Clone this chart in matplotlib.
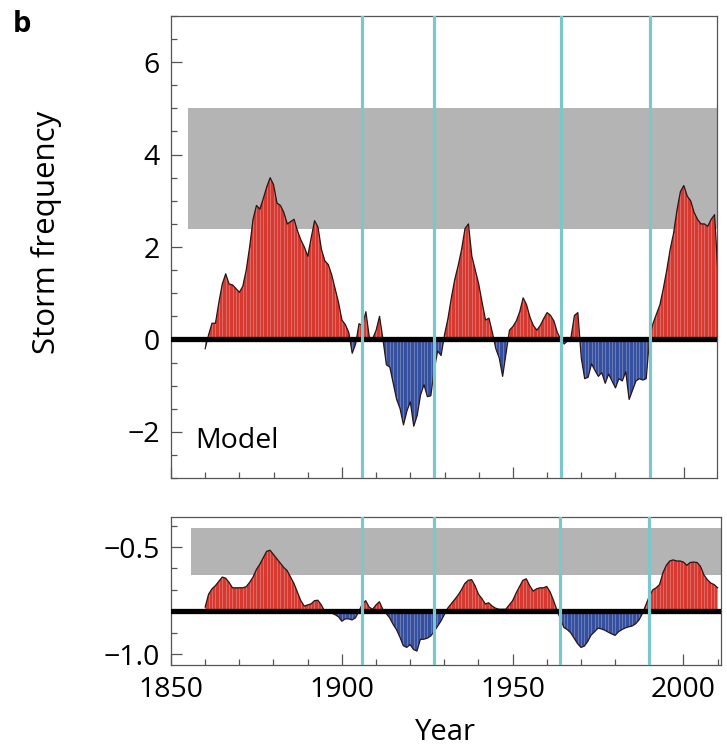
import numpy as np
import matplotlib
matplotlib.use("Agg")
import matplotlib.pyplot as plt
from matplotlib.ticker import MultipleLocator, FuncFormatter

plt.rcParams['font.family'] = ['Open Sans', 'DejaVu Sans']

# Данные
years = list(range(1860, 2011))

model = [
    -0.2, 0.1, 0.35, 0.35, 0.8, 1.2, 1.42, 1.2, 1.18, 1.1,          # 1860-1869
    1.02, 1.15, 1.5, 2.0, 2.6, 2.9, 2.82, 3.05, 3.3, 3.5,           # 1870-1879
    3.35, 2.95, 2.9, 2.75, 2.5, 2.55, 2.6, 2.35, 2.15, 2.0,         # 1880-1889
    1.8, 2.2, 2.57, 2.43, 1.95, 1.7, 1.62, 1.4, 1.1, 0.8,           # 1890-1899
    0.42, 0.32, 0.15, -0.3, -0.1, 0.34, 0.3, 0.6, 0.05, 0.02,       # 1900-1909
    0.2, 0.5, 0.0, -0.55, -0.6, -0.95, -1.3, -1.5, -1.85, -1.55,    # 1910-1919
    -1.35, -1.88, -1.65, -1.2, -0.98, -1.24, -1.22, -0.65, -0.25, -0.35,  # 1920-1929
    0.1, 0.45, 0.9, 1.3, 1.6, 1.95, 2.4, 2.5, 1.8, 1.5,             # 1930-1939
    1.2, 0.8, 0.42, 0.46, 0.15, -0.2, -0.4, -0.8, -0.3, 0.2,        # 1940-1949
    0.28, 0.4, 0.6, 0.9, 0.75, 0.48, 0.3, 0.2, 0.3, 0.45,           # 1950-1959
    0.58, 0.52, 0.4, 0.15, 0.0, -0.1, -0.03, 0.05, 0.52, 0.58,      # 1960-1969
    -0.4, -0.85, -0.82, -0.53, -0.67, -0.8, -0.72, -0.95, -0.75, -0.9,    # 1970-1979
    -1.05, -0.85, -0.9, -0.7, -1.3, -1.1, -0.9, -0.85, -0.88, -0.85,      # 1980-1989
    0.05, 0.35, 0.55, 0.75, 1.1, 1.5, 1.95, 2.3, 2.8, 3.2,          # 1990-1999
    3.33, 3.1, 3.0, 2.75, 2.6, 2.5, 2.5, 2.45, 2.6, 2.7,            # 2000-2009
    1.4,                                                            # 2010
]

obs = [
    -0.78, -0.72, -0.695, -0.68, -0.66, -0.64, -0.645, -0.665, -0.69, -0.69,
    -0.69, -0.69, -0.685, -0.665, -0.64, -0.605, -0.58, -0.55, -0.52, -0.515,
    -0.535, -0.555, -0.575, -0.595, -0.61, -0.64, -0.67, -0.71, -0.75, -0.775,
    -0.77, -0.765, -0.75, -0.748, -0.77, -0.8, -0.805, -0.808, -0.815, -0.825,
    -0.846, -0.835, -0.835, -0.84, -0.83, -0.8, -0.765, -0.75, -0.78, -0.79,
    -0.77, -0.755, -0.79, -0.81, -0.83, -0.86, -0.885, -0.92, -0.96, -0.968,
    -0.955, -0.978, -0.985, -0.93, -0.93, -0.925, -0.915, -0.895, -0.87, -0.846,
    -0.815, -0.785, -0.765, -0.745, -0.725, -0.7, -0.67, -0.655, -0.652, -0.68,
    -0.72, -0.74, -0.765, -0.76, -0.775, -0.785, -0.79, -0.79, -0.79, -0.77,
    -0.75, -0.715, -0.685, -0.655, -0.648, -0.68, -0.705, -0.695, -0.69, -0.69,
    -0.684, -0.71, -0.75, -0.795, -0.835, -0.875, -0.885, -0.9, -0.925, -0.95,
    -0.968, -0.962, -0.94, -0.91, -0.895, -0.878, -0.882, -0.888, -0.897, -0.905,
    -0.912, -0.895, -0.885, -0.877, -0.872, -0.868, -0.858, -0.84, -0.81, -0.77,
    -0.73, -0.7, -0.69, -0.675, -0.62, -0.585, -0.565, -0.56, -0.565, -0.565,
    -0.57, -0.585, -0.572, -0.57, -0.572, -0.59, -0.63, -0.652, -0.668, -0.675,
    -0.69,
]

events = [1906, 1927, 1964, 1990]

model_base = 0.0
obs_base = -0.8
model_band = (2.4, 5.0)
obs_band = (-0.63, -0.41)

RED = '#d6392f'
BLUE = '#3650a0'
CYAN = '#7cc7cc'
GREY = '#b4b4b4'
SPINE = '#555555'


def draw_panel(ax, x, y, base, band, band_x0, xmax):
    x = np.array(x, dtype=float)
    y = np.array(y, dtype=float)
    ax.axhspan(band[0], band[1], xmin=(band_x0 - 1850) / (xmax - 1850), xmax=1,
               color=GREY, lw=0, zorder=0)
    ax.fill_between(x, y, base, where=y >= base, interpolate=True,
                    color=RED, lw=0, zorder=1)
    ax.fill_between(x, y, base, where=y <= base, interpolate=True,
                    color=BLUE, lw=0, zorder=1)
    # тонкие полосы по годам
    ax.vlines(x, base, y, colors='white', lw=0.4, alpha=0.45, zorder=2)
    ax.plot(x, y, color='#2a1414', lw=0.9, zorder=3)
    ax.axhline(base, color='black', lw=3.8, zorder=4)
    for e in events:
        ax.axvline(e, color=CYAN, lw=2.3, zorder=5)
    ax.set_xlim(1850, xmax)
    ax.xaxis.set_major_locator(MultipleLocator(50))
    ax.xaxis.set_minor_locator(MultipleLocator(10))
    ax.tick_params(which='both', direction='in', color=SPINE, width=0.9,
                   labelsize=20.5, pad=8)
    ax.tick_params(which='major', length=8)
    ax.tick_params(which='minor', length=4.5)
    for s in ax.spines.values():
        s.set_color(SPINE)
        s.set_linewidth(0.9)


fig = plt.figure(figsize=(7.27, 7.5), dpi=100)

ax1 = fig.add_axes([171 / 727, 272 / 750, (717 - 171) / 727, (478 - 16) / 750])
draw_panel(ax1, years, model, model_base, model_band, 1855, 2009.7)
ax1.set_ylim(-3, 7)
ax1.yaxis.set_major_locator(MultipleLocator(2))
ax1.yaxis.set_minor_locator(MultipleLocator(0.5))
ax1.tick_params(axis='x', labelbottom=False)
ax1.text(1857, -2.2, 'Model', fontsize=20.5, va='center', ha='left', zorder=6)

ax2 = fig.add_axes([171 / 727, 85 / 750, (721 - 171) / 727, (665 - 517) / 750])
draw_panel(ax2, years, obs, obs_base, obs_band, 1856, 2011)
ax2.set_ylim(-1.05, -0.36)
ax2.yaxis.set_major_locator(MultipleLocator(0.5))
ax2.yaxis.set_minor_locator(MultipleLocator(0.1))
ax2.yaxis.set_major_formatter(FuncFormatter(lambda v, p: f"{v:.1f}".replace('-', '\u2212')))
ax2.set_xticks([1850, 1900, 1950, 2000])

fig.text(47 / 727, 1 - 232 / 750, 'Storm frequency', rotation=90,
         fontsize=22.5, ha='center', va='center')
fig.text(445 / 727, 1 - 733 / 750, 'Year', fontsize=21, ha='center', va='center')
fig.text(22 / 727, 1 - 24 / 750, 'b', fontsize=21, fontweight='bold',
         ha='center', va='center')

fig.savefig('out.png', dpi=100)
